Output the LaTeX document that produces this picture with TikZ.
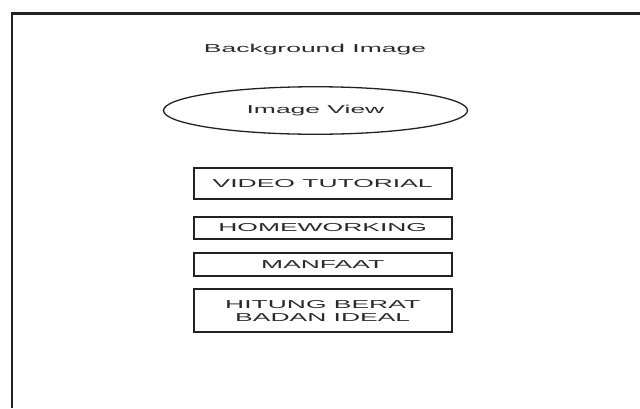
\documentclass[tikz,border=0pt]{standalone}
\usepackage{fontspec}
\usepackage{graphicx}
\setmainfont{Liberation Sans}
\usetikzlibrary{shapes.geometric}
% labels in this layout are set wide
\newcommand{\widetext}[1]{\scalebox{2.3}[1]{#1}}
\definecolor{ink}{HTML}{222222}
\definecolor{txt}{HTML}{2A2A2A}
\tikzset{
  label text/.style={font=\fontsize{11.5}{12.4}\selectfont, text=txt, inner sep=0pt},
  menubox/.style={draw=ink, line width=1.9pt, minimum width=258pt, inner sep=0pt,
                  align=center, label text},
  viewoval/.style={ellipse, draw=ink, line width=1.3pt, minimum width=304pt,
                   minimum height=47.5pt, inner sep=0pt, label text},
  frame/.style={draw=ink, line width=2.4pt}
}
\begin{document}
\begin{tikzpicture}[x=1pt,y=-1pt]
  \useasboundingbox (0,0) rectangle (640,408);
  \fill[white] (0,0) rectangle (640,408);

  % screen outline (open to the right and bottom)
  \coordinate (fbl) at (11.7,408);
  \coordinate (ftl) at (11.7,13.3);
  \coordinate (ftr) at (640,13.3);
  \draw[frame] (fbl) -- (ftl) -- (ftr);

  \node[label text] (bg) at (315,49.3) {\widetext{Background Image}};

  \node[viewoval] (iv) at (315.5,110.5) {\widetext{Image View}};

  \node[menubox, minimum height=31.4pt] (video) at (322.7,183.3) {\widetext{VIDEO TUTORIAL}};
  \node[menubox, minimum height=22.4pt] (home)  at (322.7,227.8) {\widetext{HOMEWORKING}};
  \node[menubox, minimum height=22.4pt] (manf)  at (322.7,264.5) {\widetext{MANFAAT}};
  \node[menubox, minimum height=43pt]   (bmi)   at (322.7,310.8)
       {\widetext{HITUNG BERAT}\\\widetext{BADAN IDEAL}};
\end{tikzpicture}
\end{document}
